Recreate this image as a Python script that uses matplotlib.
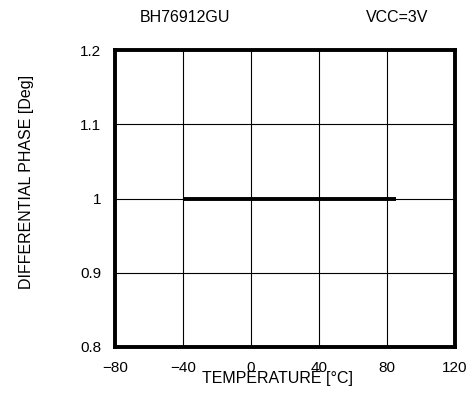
import matplotlib
matplotlib.use("Agg")
import matplotlib.pyplot as plt

plt.rcParams['font.family'] = ['Liberation Sans', 'DejaVu Sans']

temperature = [-40, 85]
phase = [1.0, 1.0]
xticks = [-80, -40, 0, 40, 80, 120]
yticks = [0.8, 0.9, 1.0, 1.1, 1.2]
ytick_labels = ['0.8', '0.9', '1', '1.1', '1.2']

fig = plt.figure(figsize=(4.75, 3.97), dpi=100)
ax = fig.add_axes([115/475, 1-347/397, 340/475, 297/397])
ax.plot(temperature, phase, color='black', linewidth=2.8, solid_capstyle='butt')
ax.set_xlim(-80, 120)
ax.set_ylim(0.8, 1.2)
ax.set_xticks(xticks)
ax.set_yticks(yticks)
ax.set_yticklabels(ytick_labels)
ax.grid(True, color='black', linewidth=0.8)
ax.tick_params(length=0, pad=10, labelsize=11)
for s in ax.spines.values():
    s.set_linewidth(2.8)
    s.set_color('black')

fs = 11.5
fig.text(185/475, 1-17/397, 'BH76912GU', ha='center', va='center', fontsize=fs)
fig.text(397/475, 1-17/397, 'VCC=3V', ha='center', va='center', fontsize=fs)
fig.text(277/475, 1-379/397, 'TEMPERATURE [\u00b0C]', ha='center', va='center', fontsize=fs)
fig.text(27/475, 1-182/397, 'DIFFERENTIAL PHASE [Deg]', ha='center', va='center',
         rotation=90, fontsize=fs)

fig.savefig('out.png', dpi=100)
